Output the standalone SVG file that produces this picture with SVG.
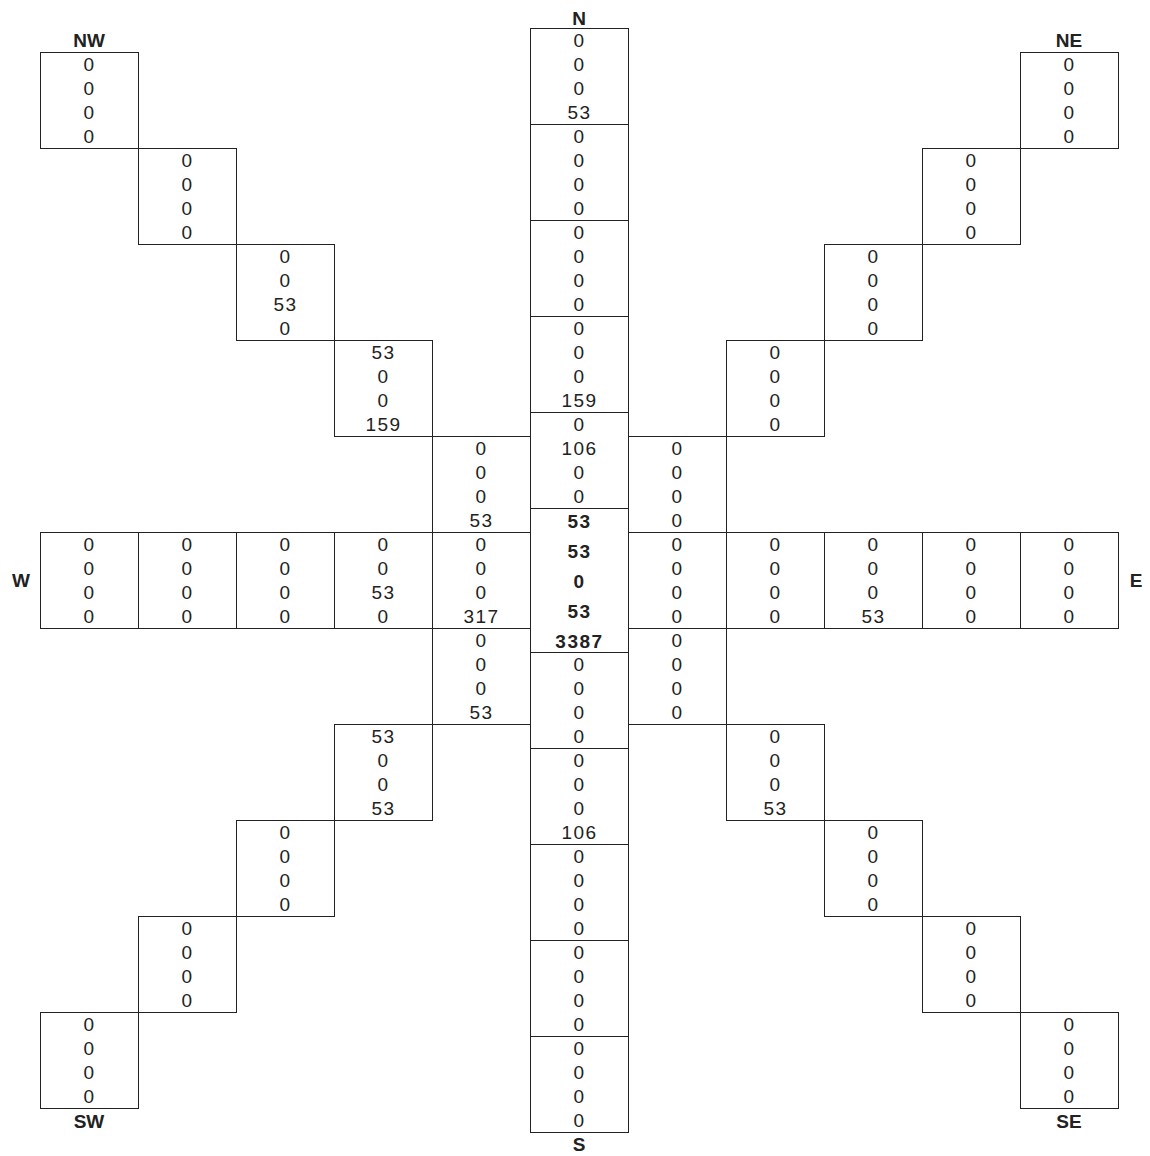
<svg xmlns="http://www.w3.org/2000/svg" width="1150" height="1156" viewBox="0 0 1150 1156">
<style>
rect{fill:#fff;stroke:#222;stroke-width:1}
text{font-family:"Liberation Sans",Arial,sans-serif;font-size:19px;fill:#222;text-anchor:middle;letter-spacing:1.5px}
.b{font-weight:bold}
.lbl{font-weight:bold;font-size:19px;letter-spacing:0}
</style>
<rect x="0" y="0" width="1150" height="1156" style="stroke:none"/>
<g transform="translate(0.5,0.5)">
<!-- N column -->
<g id="n1"><rect x="530" y="28" width="98" height="96"/><text x="579" y="46">0</text><text x="579" y="70">0</text><text x="579" y="94">0</text><text x="579" y="118">53</text></g>
<g id="n2"><rect x="530" y="124" width="98" height="96"/><text x="579" y="142">0</text><text x="579" y="166">0</text><text x="579" y="190">0</text><text x="579" y="214">0</text></g>
<g id="n3"><rect x="530" y="220" width="98" height="96"/><text x="579" y="238">0</text><text x="579" y="262">0</text><text x="579" y="286">0</text><text x="579" y="310">0</text></g>
<g id="n4"><rect x="530" y="316" width="98" height="96"/><text x="579" y="334">0</text><text x="579" y="358">0</text><text x="579" y="382">0</text><text x="579" y="406">159</text></g>
<g id="n5"><rect x="530" y="412" width="98" height="96"/><text x="579" y="430">0</text><text x="579" y="454">106</text><text x="579" y="478">0</text><text x="579" y="502">0</text></g>
<!-- center -->
<g id="center"><rect x="530" y="508" width="98" height="144"/><text class="b" x="579" y="527">53</text><text class="b" x="579" y="557">53</text><text class="b" x="579" y="587">0</text><text class="b" x="579" y="617">53</text><text class="b" x="579" y="647">3387</text></g>
<!-- S column -->
<g id="s5"><rect x="530" y="652" width="98" height="96"/><text x="579" y="670">0</text><text x="579" y="694">0</text><text x="579" y="718">0</text><text x="579" y="742">0</text></g>
<g id="s4"><rect x="530" y="748" width="98" height="96"/><text x="579" y="766">0</text><text x="579" y="790">0</text><text x="579" y="814">0</text><text x="579" y="838">106</text></g>
<g id="s3"><rect x="530" y="844" width="98" height="96"/><text x="579" y="862">0</text><text x="579" y="886">0</text><text x="579" y="910">0</text><text x="579" y="934">0</text></g>
<g id="s2"><rect x="530" y="940" width="98" height="96"/><text x="579" y="958">0</text><text x="579" y="982">0</text><text x="579" y="1006">0</text><text x="579" y="1030">0</text></g>
<g id="s1"><rect x="530" y="1036" width="98" height="96"/><text x="579" y="1054">0</text><text x="579" y="1078">0</text><text x="579" y="1102">0</text><text x="579" y="1126">0</text></g>
<!-- NW diagonal -->
<g id="nw1"><rect x="40" y="52" width="98" height="96"/><text x="89" y="70">0</text><text x="89" y="94">0</text><text x="89" y="118">0</text><text x="89" y="142">0</text></g>
<g id="nw2"><rect x="138" y="148" width="98" height="96"/><text x="187" y="166">0</text><text x="187" y="190">0</text><text x="187" y="214">0</text><text x="187" y="238">0</text></g>
<g id="nw3"><rect x="236" y="244" width="98" height="96"/><text x="285" y="262">0</text><text x="285" y="286">0</text><text x="285" y="310">53</text><text x="285" y="334">0</text></g>
<g id="nw4"><rect x="334" y="340" width="98" height="96"/><text x="383" y="358">53</text><text x="383" y="382">0</text><text x="383" y="406">0</text><text x="383" y="430">159</text></g>
<g id="nw5"><rect x="432" y="436" width="98" height="96"/><text x="481" y="454">0</text><text x="481" y="478">0</text><text x="481" y="502">0</text><text x="481" y="526">53</text></g>
<!-- NE diagonal -->
<g id="ne1"><rect x="1020" y="52" width="98" height="96"/><text x="1069" y="70">0</text><text x="1069" y="94">0</text><text x="1069" y="118">0</text><text x="1069" y="142">0</text></g>
<g id="ne2"><rect x="922" y="148" width="98" height="96"/><text x="971" y="166">0</text><text x="971" y="190">0</text><text x="971" y="214">0</text><text x="971" y="238">0</text></g>
<g id="ne3"><rect x="824" y="244" width="98" height="96"/><text x="873" y="262">0</text><text x="873" y="286">0</text><text x="873" y="310">0</text><text x="873" y="334">0</text></g>
<g id="ne4"><rect x="726" y="340" width="98" height="96"/><text x="775" y="358">0</text><text x="775" y="382">0</text><text x="775" y="406">0</text><text x="775" y="430">0</text></g>
<g id="ne5"><rect x="628" y="436" width="98" height="96"/><text x="677" y="454">0</text><text x="677" y="478">0</text><text x="677" y="502">0</text><text x="677" y="526">0</text></g>
<!-- W row -->
<g id="w1"><rect x="40" y="532" width="98" height="96"/><text x="89" y="550">0</text><text x="89" y="574">0</text><text x="89" y="598">0</text><text x="89" y="622">0</text></g>
<g id="w2"><rect x="138" y="532" width="98" height="96"/><text x="187" y="550">0</text><text x="187" y="574">0</text><text x="187" y="598">0</text><text x="187" y="622">0</text></g>
<g id="w3"><rect x="236" y="532" width="98" height="96"/><text x="285" y="550">0</text><text x="285" y="574">0</text><text x="285" y="598">0</text><text x="285" y="622">0</text></g>
<g id="w4"><rect x="334" y="532" width="98" height="96"/><text x="383" y="550">0</text><text x="383" y="574">0</text><text x="383" y="598">53</text><text x="383" y="622">0</text></g>
<g id="w5"><rect x="432" y="532" width="98" height="96"/><text x="481" y="550">0</text><text x="481" y="574">0</text><text x="481" y="598">0</text><text x="481" y="622">317</text></g>
<!-- E row -->
<g id="e5"><rect x="628" y="532" width="98" height="96"/><text x="677" y="550">0</text><text x="677" y="574">0</text><text x="677" y="598">0</text><text x="677" y="622">0</text></g>
<g id="e4"><rect x="726" y="532" width="98" height="96"/><text x="775" y="550">0</text><text x="775" y="574">0</text><text x="775" y="598">0</text><text x="775" y="622">0</text></g>
<g id="e3"><rect x="824" y="532" width="98" height="96"/><text x="873" y="550">0</text><text x="873" y="574">0</text><text x="873" y="598">0</text><text x="873" y="622">53</text></g>
<g id="e2"><rect x="922" y="532" width="98" height="96"/><text x="971" y="550">0</text><text x="971" y="574">0</text><text x="971" y="598">0</text><text x="971" y="622">0</text></g>
<g id="e1"><rect x="1020" y="532" width="98" height="96"/><text x="1069" y="550">0</text><text x="1069" y="574">0</text><text x="1069" y="598">0</text><text x="1069" y="622">0</text></g>
<!-- SW diagonal -->
<g id="sw5"><rect x="432" y="628" width="98" height="96"/><text x="481" y="646">0</text><text x="481" y="670">0</text><text x="481" y="694">0</text><text x="481" y="718">53</text></g>
<g id="sw4"><rect x="334" y="724" width="98" height="96"/><text x="383" y="742">53</text><text x="383" y="766">0</text><text x="383" y="790">0</text><text x="383" y="814">53</text></g>
<g id="sw3"><rect x="236" y="820" width="98" height="96"/><text x="285" y="838">0</text><text x="285" y="862">0</text><text x="285" y="886">0</text><text x="285" y="910">0</text></g>
<g id="sw2"><rect x="138" y="916" width="98" height="96"/><text x="187" y="934">0</text><text x="187" y="958">0</text><text x="187" y="982">0</text><text x="187" y="1006">0</text></g>
<g id="sw1"><rect x="40" y="1012" width="98" height="96"/><text x="89" y="1030">0</text><text x="89" y="1054">0</text><text x="89" y="1078">0</text><text x="89" y="1102">0</text></g>
<!-- SE diagonal -->
<g id="se5"><rect x="628" y="628" width="98" height="96"/><text x="677" y="646">0</text><text x="677" y="670">0</text><text x="677" y="694">0</text><text x="677" y="718">0</text></g>
<g id="se4"><rect x="726" y="724" width="98" height="96"/><text x="775" y="742">0</text><text x="775" y="766">0</text><text x="775" y="790">0</text><text x="775" y="814">53</text></g>
<g id="se3"><rect x="824" y="820" width="98" height="96"/><text x="873" y="838">0</text><text x="873" y="862">0</text><text x="873" y="886">0</text><text x="873" y="910">0</text></g>
<g id="se2"><rect x="922" y="916" width="98" height="96"/><text x="971" y="934">0</text><text x="971" y="958">0</text><text x="971" y="982">0</text><text x="971" y="1006">0</text></g>
<g id="se1"><rect x="1020" y="1012" width="98" height="96"/><text x="1069" y="1030">0</text><text x="1069" y="1054">0</text><text x="1069" y="1078">0</text><text x="1069" y="1102">0</text></g>
</g>
<!-- direction labels -->
<g id="labels">
<text class="lbl" x="579" y="25">N</text>
<text class="lbl" x="579" y="1151">S</text>
<text class="lbl" x="21" y="587">W</text>
<text class="lbl" x="1136" y="587">E</text>
<text class="lbl" x="89" y="47">NW</text>
<text class="lbl" x="1069" y="47">NE</text>
<text class="lbl" x="89" y="1128">SW</text>
<text class="lbl" x="1069" y="1128">SE</text>
</g>
</svg>
